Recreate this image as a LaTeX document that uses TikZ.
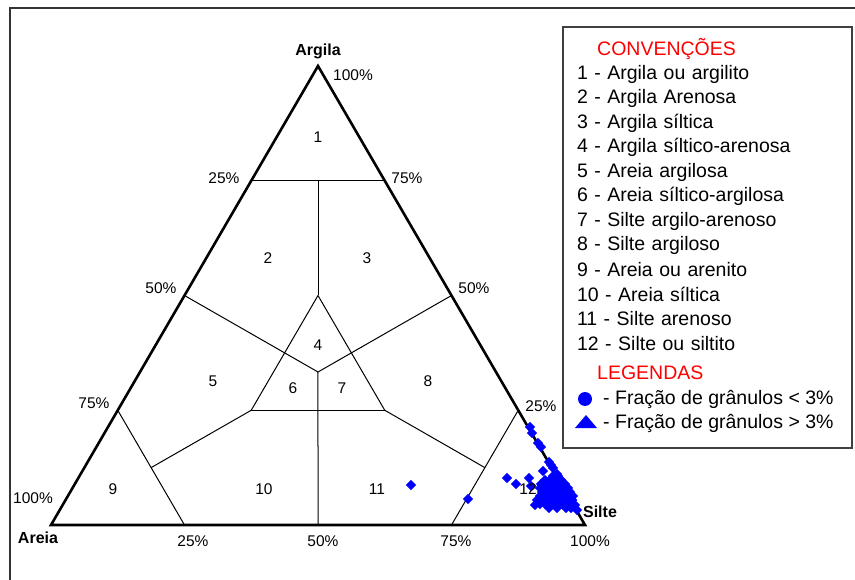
\documentclass[tikz,border=0pt]{standalone}
\usepackage{fontspec}
\setmainfont{Liberation Sans}
\usetikzlibrary{shapes.geometric}

\begin{document}
\begin{tikzpicture}[x=1pt,y=-1pt,node distance=24.5pt,
  edge line/.style={line width=2.6pt,line join=miter},
  field line/.style={line width=1pt},
  pct/.style={inner sep=0pt,font=\fontsize{15.5}{18}\selectfont},
  zone/.style={inner sep=0pt,font=\fontsize{15.5}{18}\selectfont},
  corner/.style={inner sep=0pt,font=\fontsize{16}{19}\selectfont\bfseries},
  legend title/.style={inner sep=0pt,anchor=west,text=red,font=\fontsize{19.5}{23}\selectfont},
  legend item/.style={inner sep=0pt,text width=260pt,align=left,font=\fontsize{19.5}{23}\selectfont},
  legend text/.style={inner sep=0pt,anchor=west,font=\fontsize{19.5}{23}\selectfont},
  grain/.style={diamond,fill=blue,inner sep=0pt,minimum size=10.5pt}]
            \useasboundingbox (0,0) rectangle (855,580);
            \draw[line width=2.2pt,black!80] (10,580) -- (10,8) -- (855,8);

            % triangle
            \coordinate (argila) at (318,66);
            \coordinate (areia) at (51,525);
            \coordinate (silte) at (585,525);
            \draw[edge line] (areia) -- (silte) -- (argila) -- cycle;

            \coordinate (a75l) at (barycentric cs:argila=0.75,areia=0.25);
            \coordinate (a75r) at (barycentric cs:argila=0.75,silte=0.25);
            \coordinate (a75m) at (barycentric cs:argila=0.75,areia=0.125,silte=0.125);
            \coordinate (a50l) at (barycentric cs:argila=0.5,areia=0.5);
            \coordinate (a50r) at (barycentric cs:argila=0.5,silte=0.5);
            \coordinate (a25l) at (barycentric cs:argila=0.25,areia=0.75);
            \coordinate (a25r) at (barycentric cs:argila=0.25,silte=0.75);
            \coordinate (in4) at (barycentric cs:argila=0.5,areia=0.25,silte=0.25);
            \coordinate (in6) at (barycentric cs:argila=0.25,areia=0.5,silte=0.25);
            \coordinate (in7) at (barycentric cs:argila=0.25,areia=0.25,silte=0.5);
            \coordinate (mid) at (barycentric cs:argila=1,areia=1,silte=1);
            \coordinate (j9) at (barycentric cs:argila=0.125,areia=0.75,silte=0.125);
            \coordinate (j12) at (barycentric cs:argila=0.125,areia=0.125,silte=0.75);
            \coordinate (s25) at (barycentric cs:areia=0.75,silte=0.25);
            \coordinate (s50) at (barycentric cs:areia=0.5,silte=0.5);
            \coordinate (s75) at (barycentric cs:areia=0.25,silte=0.75);

            \path[field line]
                (a75l) edge (a75r)
                (a75m) edge (in4)
                (in4) edge (in6)
                (in4) edge (in7)
                (in6) edge (in7)
                (a50l) edge (mid)
                (mid) edge (a50r)
                (mid) edge (s50)
                (a25l) edge (s25)
                (in6) edge (j9)
                (a25r) edge (s75)
                (in7) edge (j12)
            ;

            % amostras
            \foreach \px/\py [count=\k] in {411/485,468/499,507/478,516/484,529/478,531/486,543/471,535/505,
                530/427,532/433,538/443,541/447,549/462,551/465,553/468,557/474,560/479,563/484,566/490,
                569/495,572/500,575/505,577/510,
                553/476,558/476,545/480,550/480,556/480,561/480,
                541/484,546/484,551/484,556/484,561/484,565/484,
                540/488,545/488,550/488,555/488,560/488,565/488,568/488,
                542/492,547/492,552/492,557/492,562/492,567/492,570/492,
                540/496,545/496,550/496,555/496,560/496,565/496,570/496,573/496,
                537/500,542/500,547/500,552/500,557/500,562/500,567/500,572/500,
                540/504,545/504,551/504,556/504,563/504,568/504,573/504,
                549/508,557/508,566/508,571/508}
                \node[grain] (g\k) at (\px,\py) {};

            \node[corner] (nArg) at (318,51) {Argila};
            \node[corner] (nSil) at (600,512) {Silte};
            \node[corner] (nAre) at (38,538) {Areia};

            \node[pct] (p1) at (353,75) {100\%};
            \node[pct] (p2) at (224,178) {25\%};
            \node[pct] (p3) at (407,178) {75\%};
            \node[pct] (p4) at (161,288) {50\%};
            \node[pct] (p5) at (474,288) {50\%};
            \node[pct] (p6) at (94,403) {75\%};
            \node[pct] (p7) at (541,406) {25\%};
            \node[pct] (p8) at (33,498) {100\%};
            \node[pct] (p9) at (193,541) {25\%};
            \node[pct] (p10) at (323,541) {50\%};
            \node[pct] (p11) at (456,541) {75\%};
            \node[pct] (p12) at (590,541) {100\%};

            \node[zone] (z1) at (318,137) {1};
            \node[zone] (z2) at (268,258) {2};
            \node[zone] (z3) at (367,258) {3};
            \node[zone] (z4) at (318,345) {4};
            \node[zone] (z5) at (213,381) {5};
            \node[zone] (z6) at (293,388) {6};
            \node[zone] (z7) at (342,388) {7};
            \node[zone] (z8) at (428,381) {8};
            \node[zone] (z9) at (113,489) {9};
            \node[zone] (z10) at (264,489) {10};
            \node[zone] (z11) at (377,489) {11};
            \node[zone] (z12) at (528,489) {12};

            % legenda
            \draw[line width=1.6pt,black!75] (563,27) rectangle (852,448);
            \node[legend title] (conv) at (597,49) {CONVENÇÕES};
            \node[legend item] (c1) at (707,74) {1 - Argila ou argilito};
            \node[legend item] (c2) [below of = c1] {2 - Argila Arenosa};
            \node[legend item] (c3) [below of = c2] {3 - Argila síltica};
            \node[legend item] (c4) [below of = c3] {4 - Argila síltico-arenosa};
            \node[legend item] (c5) [below of = c4] {5 - Areia argilosa};
            \node[legend item] (c6) [below of = c5] {6 - Areia síltico-argilosa};
            \node[legend item] (c7) [below of = c6] {7 - Silte argilo-arenoso};
            \node[legend item] (c8) [below of = c7] {8 - Silte argiloso};
            \node[legend item] (c9) [below of = c8] {9 - Areia ou arenito};
            \node[legend item] (c10) [below of = c9] {10 - Areia síltica};
            \node[legend item] (c11) [below of = c10] {11 - Silte arenoso};
            \node[legend item] (c12) [below of = c11] {12 - Silte ou siltito};
            \node[legend title] (leg) at (597,373) {LEGENDAS};
            \node[circle,fill=blue,inner sep=0pt,minimum size=14pt] (dot) at (585,399) {};
            \node[legend text] (t1) at (603,399) {- Fração de grânulos < 3\%};
            \fill[blue] (575,428) -- (597,428) -- (586,415) -- cycle;
            \node[legend text] (t2) at (603,423) {- Fração de grânulos > 3\%};
            \end{tikzpicture}
\end{document}
